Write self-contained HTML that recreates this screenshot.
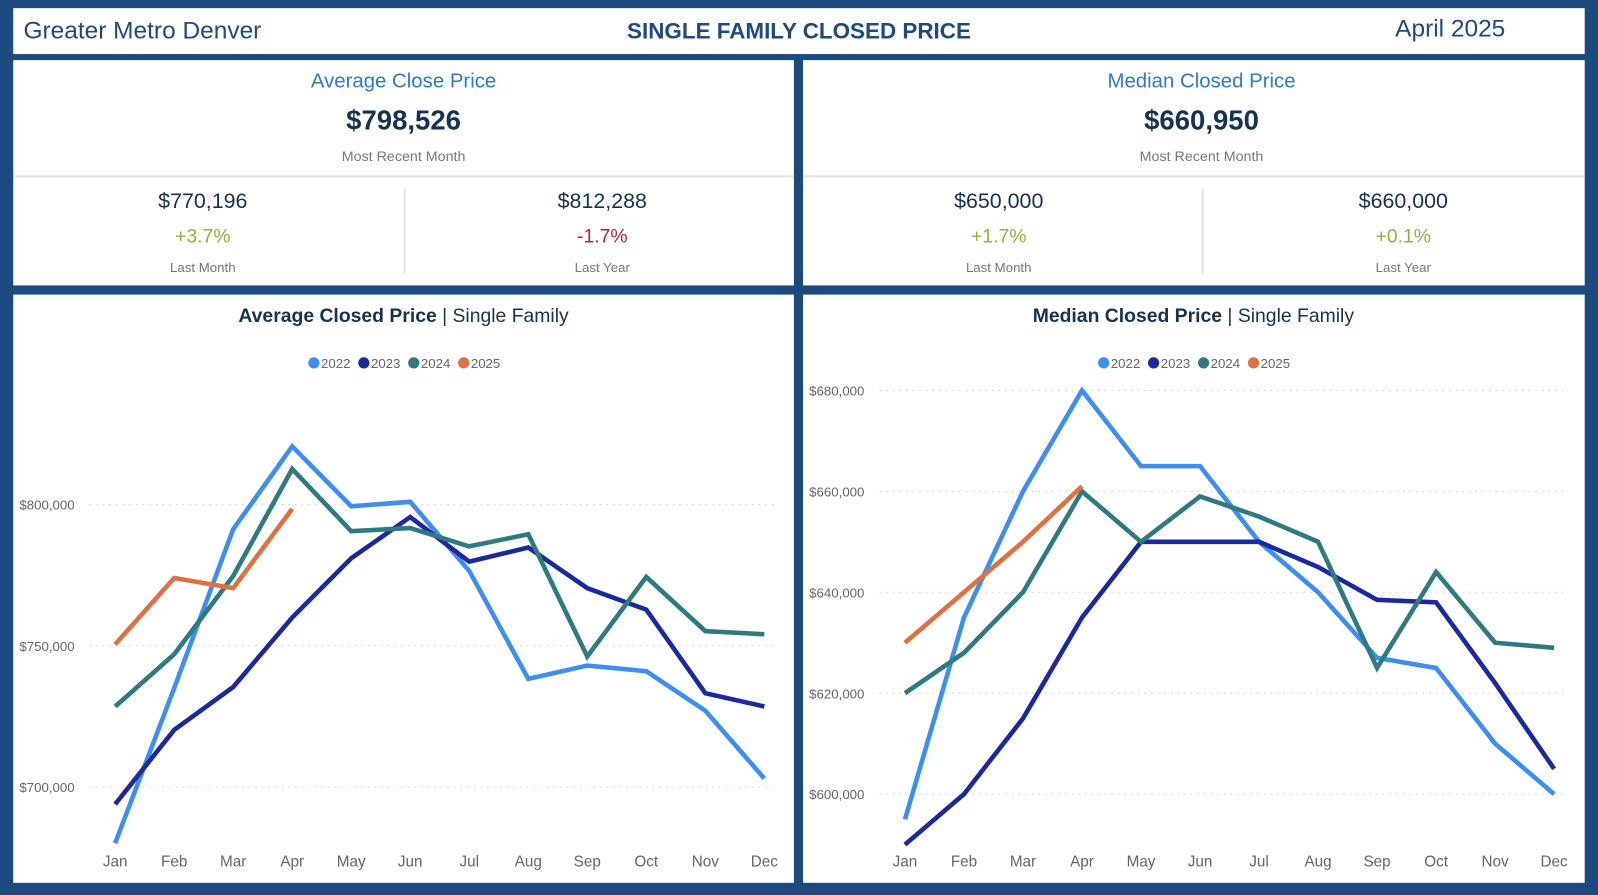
<!DOCTYPE html>
<html><head><meta charset="utf-8"><style>
html,body{margin:0;width:1598px;height:895px;background:#1d4a7e;overflow:hidden}
#w{position:absolute;left:0;top:0;width:1568px;height:878px;transform:scale(1.0191,1.0194);transform-origin:0 0;font-family:"Liberation Sans",sans-serif}
.p{position:absolute;background:#fff}
.t{position:absolute;white-space:nowrap}
.c{transform:translateX(-50%)}
</style></head><body>
<div id="w">
<div class="p" style="left:13px;top:8px;width:1542px;height:45px">
 <div class="t" style="left:10px;top:9px;font-size:24px;color:#1f4a7e">Greater Metro Denver</div>
 <div class="t c" style="left:771px;top:10px;font-size:22px;font-weight:bold;color:#1f4a7e">SINGLE FAMILY CLOSED PRICE</div>
 <div class="t" style="left:1356px;top:7px;font-size:24px;color:#1f4a7e">April 2025</div>
</div>

<div class="p" style="left:13px;top:59px;width:766px;height:221px">
 <div class="t c" style="left:383px;top:10px;font-size:20px;color:#2f7bc8">Average Close Price</div>
 <div class="t c" style="left:383px;top:44px;font-size:27px;font-weight:bold;color:#16324f">$798,526</div>
 <div class="t c" style="left:383px;top:86px;font-size:14px;color:#777">Most Recent Month</div>
 <div style="position:absolute;left:0;top:113px;width:766px;height:2px;background:#e4e4e4"></div>
 <div style="position:absolute;left:383px;top:126px;width:2px;height:84px;background:#e4e4e4"></div>
 <div class="t c" style="left:186px;top:127px;font-size:21px;color:#16324f">$770,196</div>
 <div class="t c" style="left:186px;top:163px;font-size:19px;color:#8db53a">+3.7%</div>
 <div class="t c" style="left:186px;top:196px;font-size:13px;color:#777">Last Month</div>
 <div class="t c" style="left:578px;top:127px;font-size:21px;color:#16324f">$812,288</div>
 <div class="t c" style="left:578px;top:163px;font-size:19px;color:#b0282e">-1.7%</div>
 <div class="t c" style="left:578px;top:196px;font-size:13px;color:#777">Last Year</div>
</div>

<div class="p" style="left:788px;top:59px;width:767px;height:221px">
 <div class="t c" style="left:391px;top:10px;font-size:20px;color:#2f7bc8">Median Closed Price</div>
 <div class="t c" style="left:391px;top:44px;font-size:27px;font-weight:bold;color:#16324f">$660,950</div>
 <div class="t c" style="left:391px;top:86px;font-size:14px;color:#777">Most Recent Month</div>
 <div style="position:absolute;left:0;top:113px;width:767px;height:2px;background:#e4e4e4"></div>
 <div style="position:absolute;left:391px;top:126px;width:2px;height:84px;background:#e4e4e4"></div>
 <div class="t c" style="left:192px;top:127px;font-size:21px;color:#16324f">$650,000</div>
 <div class="t c" style="left:192px;top:163px;font-size:19px;color:#8db53a">+1.7%</div>
 <div class="t c" style="left:192px;top:196px;font-size:13px;color:#777">Last Month</div>
 <div class="t c" style="left:589px;top:127px;font-size:21px;color:#16324f">$660,000</div>
 <div class="t c" style="left:589px;top:163px;font-size:19px;color:#8db53a">+0.1%</div>
 <div class="t c" style="left:589px;top:196px;font-size:13px;color:#777">Last Year</div>
</div>

<div class="p" style="left:13px;top:289px;width:766px;height:577px"></div>
<div class="p" style="left:788px;top:289px;width:767px;height:577px"></div>
<svg id="s" width="1568" height="878" style="position:absolute;left:0;top:0" font-family="Liberation Sans, sans-serif"></svg>
</div>
<script>
const months=["Jan","Feb","Mar","Apr","May","Jun","Jul","Aug","Sep","Oct","Nov","Dec"];
const years=["2022","2023","2024","2025"];
const colors=["#3d8ef0","#1a2a9a","#2e7a80","#e07040"];
const avg2022=[680100,735000,791300,820600,799400,801000,776500,738300,743000,741000,727000,703000];
const avg2023=[693900,720200,735400,760000,781000,795600,779800,784800,770400,762800,733200,728500];
const avg2024=[728500,747000,774700,812600,790600,791700,785200,789500,746200,774400,755200,754100];
const avg2025=[750500,774000,770400,798500];
const avgTicks=[700000,750000,800000];
const med2022=[595000,635000,660000,680000,665000,665000,650000,640000,627000,625000,610000,600000];
const med2023=[590000,600000,615000,635000,650000,650000,650000,645000,638500,638000,622000,605000];
const med2024=[620000,628000,640000,660000,650000,659000,655000,650000,625000,644000,630000,629000];
const med2025=[630000,640000,650000,661000];
const medTicks=[600000,620000,640000,660000,680000];
const S=document.getElementById('s');const NS="http://www.w3.org/2000/svg";
function mk(t,a,txt){const e=document.createElementNS(NS,t);for(const k in a)e.setAttribute(k,a[k]);if(txt!=null)e.textContent=txt;S.appendChild(e);return e;}
function fmt(v){return "$"+v.toLocaleString("en-US");}
function chart(o){
 const x=i=>o.x0+i*(o.x1-o.x0)/11;
 const y=v=>o.yA+(v-o.vA)*(o.yB-o.yA)/(o.vB-o.vA);
 let t=mk('text',{x:o.cx,y:316,'text-anchor':'middle','font-size':19,fill:'#16324f'});
 
 
 const b=document.createElementNS(NS,'tspan');b.setAttribute('font-weight','bold');b.textContent=o.title;t.appendChild(b);
 const r=document.createElementNS(NS,'tspan');r.textContent=" | Single Family";t.appendChild(r);
 let lx=o.cx-93;
 years.forEach((yr,k)=>{
  const c=mk('circle',{cx:lx+5,cy:356,r:5.5,fill:colors[k]});
  
  
  const tx=mk('text',{x:lx+12,y:361,'font-size':13,fill:'#666'},yr);
  
  
  lx+=49;
 });
 o.ticks.forEach(v=>{
  const l=mk('line',{x1:o.gx,x2:o.x1+14,y1:y(v),y2:y(v),stroke:'#ccc','stroke-dasharray':'1.5 5'});
  
  
  const tx=mk('text',{x:o.lx,y:y(v)+5,'font-size':13,fill:'#666'},fmt(v));
  
  
 });
 months.forEach((m,i)=>{
  const tx=mk('text',{x:x(i),y:850,'text-anchor':'middle','font-size':15,fill:'#666'},m);
  
  
 });
 o.series.forEach((d,k)=>{
  const p=mk('polyline',{points:d.map((v,i)=>x(i)+','+y(v)).join(' '),fill:'none',stroke:colors[k],'stroke-width':4.5,'stroke-linejoin':'miter'});
  
  
 });
}
chart({name:'average-chart',title:'Average Closed Price',cx:396,x0:113,x1:750,yA:495,vA:800000,yB:772,vB:700000,ticks:avgTicks,gx:88,lx:19,series:[avg2022,avg2023,avg2024,avg2025]});
chart({name:'median-chart',title:'Median Closed Price',cx:1171,x0:888,x1:1525,yA:383,vA:680000,yB:779,vB:600000,ticks:medTicks,gx:863,lx:794,series:[med2022,med2023,med2024,med2025]});
</script>
</body></html>
